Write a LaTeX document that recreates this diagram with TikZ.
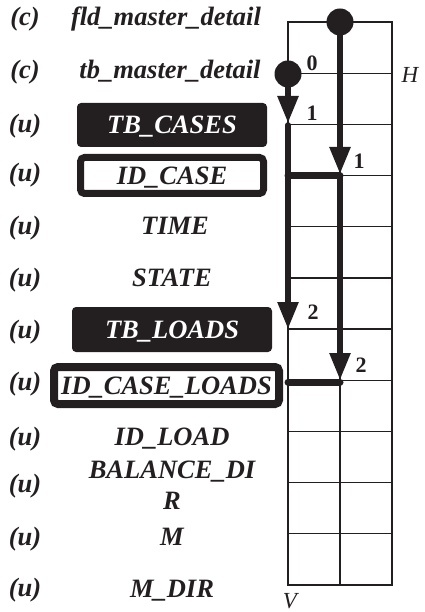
\documentclass[tikz,border=0pt]{standalone}
\usepackage{fontspec}
\setmainfont{Liberation Serif}
\usetikzlibrary{arrows.meta}
\definecolor{ink}{RGB}{35,31,32}
\begin{document}
\begin{tikzpicture}[x=1pt,y=-1pt,
  txt/.style={font=\fontsize{26.5}{31}\selectfont\bfseries\itshape, text=ink, inner sep=0pt},
  lbl/.style={txt, text height=17.5pt, text depth=0pt},
  tag/.style={lbl},
  darkbox/.style={lbl, fill=ink, text=white, rounded corners=4pt},
  ringbox/.style={lbl, draw=ink, rounded corners=4pt},
  num/.style={font=\fontsize{22}{26}\selectfont\bfseries, text=ink, inner sep=0pt},
  axis/.style={font=\fontsize{23}{26}\selectfont\itshape, text=ink, inner sep=0pt},
  gridline/.style={draw=ink, line width=1.3pt},
  flow/.style={draw=ink, line width=5.5pt, line cap=round,
    -{Triangle[length=27pt,width=20pt]}},
  bar/.style={draw=ink, line width=7pt, line cap=round},
  dot/.style={fill=ink},
]
\useasboundingbox (0,0) rectangle (424,612);

% grid: two columns, eleven rows
\coordinate (gtl) at (288,22);
\coordinate (gbr) at (392,585);
\draw[gridline] (gtl) rectangle (gbr);
\foreach \r in {1,...,10}
  \draw[gridline] (288,22+51.18*\r) -- (392,22+51.18*\r);
\draw[gridline] (340,22) -- (340,585);

% row tags
\foreach \y/\t [count=\i] in {17/(c),70/(c),124/(u),173/(u),226/(u),278/(u),330/(u),382/(u),437/(u),484/(u),537/(u),588/(u)}
  \node[tag] (tag\i) at (25,\y) {\t};

% column names
\node[lbl] (fld) at (166,17) {fld\_master\_detail};
\node[lbl] (tbmd) at (170,70) {tb\_master\_detail};
\node[darkbox, minimum width=190pt, minimum height=44pt] (tbcases) at (172,125) {TB\_CASES};
\node[ringbox, line width=7pt, minimum width=183pt, minimum height=36pt] (idcase) at (172,175.5) {ID\_CASE};
\node[lbl] (time) at (175,226) {TIME};
\node[lbl] (state) at (172,278) {STATE};
\node[darkbox, minimum width=200pt, minimum height=45pt] (tbloads) at (172,329.5) {TB\_LOADS};
\node[ringbox, line width=8pt, minimum width=225pt, minimum height=37pt] (idcl) at (166.5,385.5) {ID\_CASE\_LOADS};
\node[lbl] (idload) at (172,437) {ID\_LOAD};
\node[txt, align=center, anchor=north] (bal) at (172,461) {BALANCE\_DI\\R};
\node[lbl] (m) at (172,537) {M};
\node[lbl] (mdir) at (172,589) {M\_DIR};

% axis letters
\node[axis] (hax) at (410,75) {H};
\node[axis] (vax) at (290,601) {V};

% key points on the grid
\coordinate (r0) at (340,22);
\coordinate (r1) at (340,176);
\coordinate (r1t) at (340,174);
\coordinate (r2) at (340,382);
\coordinate (r2t) at (340,380);
\coordinate (l0) at (288,74);
\coordinate (l1) at (288,125);
\coordinate (l1t) at (288,123);
\coordinate (l2t) at (288,329);
\coordinate (l2) at (288,382);
\coordinate (lb) at (288,176);

% paths
\draw[flow] (r0) -- (r1t);
\draw[flow] (r1) -- (r2t);
\draw[flow] (l0) -- (l1t);
\draw[flow] (l1) -- (l2t);
\draw[bar] (lb) -- (r1);
\draw[bar] (l2) -- (r2);
\fill[dot] (r0) circle (13.5pt);
\fill[dot] (l0) circle (13.5pt);

% step numbers
\node[num] (n0) at (312,63) {0};
\node[num] (n1l) at (312,113) {1};
\node[num] (n1r) at (359,161) {1};
\node[num] (n2l) at (313,312) {2};
\node[num] (n2r) at (361,365) {2};
\end{tikzpicture}
\end{document}
